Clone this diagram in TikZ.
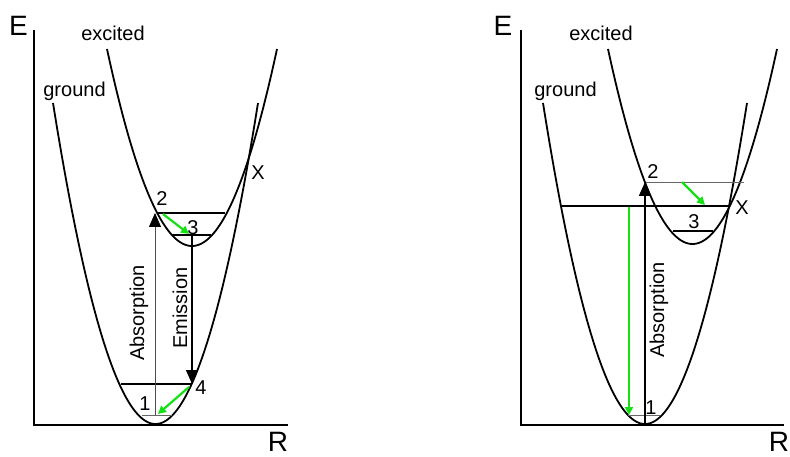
\documentclass[tikz,border=0pt]{standalone}
\usepackage{fontspec}
\setmainfont{Liberation Sans}
\usetikzlibrary{arrows.meta}
\definecolor{lgreen}{RGB}{20,225,20}
\tikzset{
  curve/.style={line width=1.8pt, black},
  axis/.style={line width=1.6pt, black},
  level/.style={line width=1.1pt, black},
  thinlevel/.style={line width=0.8pt, black!60},
  lbl/.style={font=\fontsize{20}{24}\selectfont, inner sep=0pt},
  big/.style={font=\fontsize{28}{32}\selectfont, inner sep=0pt},
  blackarrow/.style={-{Triangle[length=14pt,width=12pt,black]}},
  greenarrow/.style={lgreen, line width=2.2pt, -{Triangle[length=8pt,width=8pt]}},
}
\begin{document}
\begin{tikzpicture}[x=1pt,y=-1pt]
\useasboundingbox (0,0) rectangle (790,457);
% ===================== LEFT PANEL =====================
\coordinate (LaxT) at (34,30);
\coordinate (LaxO) at (34,425);
\coordinate (LaxR) at (288,425);
\draw[axis] (LaxT) -- (LaxO) -- (LaxR);
\node[big] (LE) at (18.5,26) {E};
\node[big] (LR) at (278,442) {R};
% ground
\draw[curve] plot[domain=53:258, samples=120] (\x, {424-321*((\x-155.5)/102.5)^2});
% excited
\draw[curve] plot[domain=107:277, samples=120] (\x, {246-197*((\x-192)/85)^2});
\node[lbl, anchor=base] (Lexc) at (113,41) {excited};
\node[lbl, anchor=base] (Lgnd) at (74.5,97) {ground};
% levels
\coordinate (L2a) at (157,213); \coordinate (L2b) at (225,213);
\coordinate (L3a) at (172,235); \coordinate (L3b) at (211,235);
\coordinate (L4a) at (121,384); \coordinate (L4b) at (191,384);
\coordinate (L1a) at (142,415); \coordinate (L1b) at (172,415);
\draw[level] (L2a) -- (L2b);
\draw[level] (L3a) -- (L3b);
\draw[level] (L4a) -- (L4b);
\draw[thinlevel] (L1a) -- (L1b);
% absorption
\coordinate (LabsS) at (155,415);
\coordinate (LabsE) at (155,213);
\draw[line width=0.8pt, black!70, blackarrow] (LabsS) -- (LabsE);
\node[lbl, rotate=90] (Labs) at (139,313) {Absorption};
% emission
\coordinate (LemS) at (192,235);
\coordinate (LemE) at (192,384);
\draw[line width=1.3pt, black, blackarrow] (LemS) -- (LemE);
\node[lbl, rotate=90] (Lem) at (180,308) {Emission};
% green relaxations
\coordinate (Lg1S) at (163,214); \coordinate (Lg1E) at (189,234);
\draw[greenarrow] (Lg1S) -- (Lg1E);
\coordinate (Lg2S) at (189,387); \coordinate (Lg2E) at (158,414);
\draw[greenarrow] (Lg2S) -- (Lg2E);
% labels
\node[lbl] (L2) at (162,199) {2};
\node[lbl] (L3) at (193,228) {3};
\node[lbl] (L1) at (145,404) {1};
\node[lbl] (L4) at (201,388) {4};
\node[lbl] (LX) at (258,173) {X};
% ===================== RIGHT PANEL =====================
\coordinate (RaxT) at (521,30);
\coordinate (RaxO) at (521,425);
\coordinate (RaxR) at (784,425);
\draw[axis] (RaxT) -- (RaxO) -- (RaxR);
\node[big] (RE) at (503,26) {E};
\node[big] (RR) at (779,442) {R};
% ground
\draw[curve] plot[domain=543:747, samples=120] (\x, {424-321*((\x-645)/102)^2});
% excited
\draw[curve] plot[domain=608:777, samples=120] (\x, {244-195*((\x-692.5)/84.5)^2});
\node[lbl, anchor=base] (Rexc) at (601,41) {excited};
\node[lbl, anchor=base] (Rgnd) at (565.5,97) {ground};
% levels
\coordinate (R2a) at (646,182); \coordinate (R2b) at (744,182);
\coordinate (RXa) at (562,206); \coordinate (RXb) at (730,206);
\coordinate (R3a) at (673,231); \coordinate (R3b) at (713,231);
\coordinate (R1a) at (628,415); \coordinate (R1b) at (660,415);
\draw[thinlevel] (R2a) -- (R2b);
\draw[level] (RXa) -- (RXb);
\draw[level] (R3a) -- (R3b);
\draw[thinlevel] (R1a) -- (R1b);
% absorption
\coordinate (RabsS) at (645,424);
\coordinate (RabsE) at (645,182);
\draw[line width=1.6pt, black, blackarrow] (RabsS) -- (RabsE);
\node[lbl, rotate=90] (Rabs) at (659,310) {Absorption};
% green
\coordinate (Rg1S) at (682,182); \coordinate (Rg1E) at (705,205);
\draw[greenarrow] (Rg1S) -- (Rg1E);
\coordinate (Rg2S) at (629,207); \coordinate (Rg2E) at (629,415);
\draw[greenarrow] (Rg2S) -- (Rg2E);
% labels
\node[lbl] (R2) at (653,172) {2};
\node[lbl] (R3) at (694,222) {3};
\node[lbl] (RX) at (742,208) {X};
\node[lbl] (R1) at (651,408) {1};
\end{tikzpicture}
\end{document}
